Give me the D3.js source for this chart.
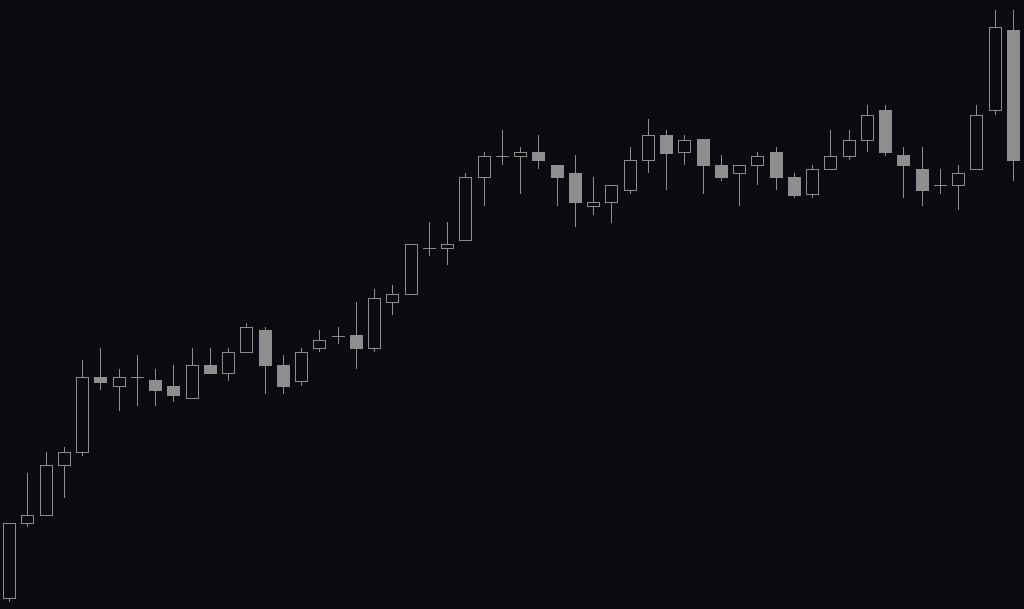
<!DOCTYPE html>
<html>
<head>
<meta charset="utf-8">
<script src="https://cdn.jsdelivr.net/npm/d3@7"></script>
<style>
  html, body { margin: 0; padding: 0; background: #0a0a10; overflow: hidden; }
  svg { display: block; }
</style>
</head>
<body>
<svg id="chart" width="1024" height="609"></svg>
<script>
const openP  = [100.4,115.3,116.9,126.9,129.5,144.6,142.7,144.5,143.8,142.8,140.3,146.9,145.3,149.5,153.8,146.9,143.7,150.3,152.7,152.8,150.3,159.5,161.1,170.3,170.3,171.9,184.5,188.7,188.7,189.5,186.9,185.3,178.7,179.5,181.9,187.9,193.0,189.5,192.0,187.0,185.3,186.9,189.6,184.6,181.1,186.1,188.7,191.9,198.0,188.8,186.2,182.9,182.9,186.1,197.9,213.8];
const highP  = [115.4,125.4,129.6,130.4,147.8,150.4,146.2,148.8,146.2,147.0,150.4,150.4,150.4,155.4,154.6,148.8,150.4,153.8,154.6,159.6,162.0,163.0,171.2,175.4,175.4,185.4,189.6,193.8,190.4,193.0,186.9,188.8,184.6,182.9,190.4,196.2,193.8,193.0,192.0,188.8,186.9,189.6,190.4,185.4,187.0,193.8,193.8,198.8,198.8,190.4,190.4,186.2,187.0,198.8,218.0,218.0];
const lowP   = [99.7,114.7,116.9,120.5,128.9,142.0,137.9,138.9,138.9,139.7,140.3,145.3,143.9,149.5,141.3,141.3,142.9,149.7,151.3,146.3,149.7,157.1,161.1,168.9,167.1,171.9,178.9,187.1,181.3,186.3,178.9,174.7,177.1,175.5,181.3,185.5,182.1,187.1,181.3,183.9,178.9,183.1,182.1,180.5,180.5,186.1,188.1,189.7,188.9,180.5,178.9,181.3,178.1,186.1,197.1,183.9];
const closeP = [115.3,116.9,126.9,129.5,144.5,143.6,144.5,144.5,141.8,141.0,146.9,145.3,149.5,154.5,146.9,142.7,149.5,151.9,152.7,150.3,160.3,161.1,171.2,170.3,171.1,184.5,188.7,188.7,189.5,187.9,184.5,179.5,179.5,182.9,187.9,192.9,189.5,191.9,186.9,184.5,186.9,188.7,184.5,181.1,186.1,188.7,191.9,196.9,189.5,186.9,181.9,182.9,185.3,196.9,214.5,187.9];

const W = 1024, H = 609;
const bg = "#0a0a10", stroke = "#8c8c8c", downFill = "#8e8e8e";

const data = openP.map((o, i) => ({ i, o, h: highP[i], l: lowP[i], c: closeP[i] }));

const x = d3.scaleBand().domain(data.map(d => d.i)).range([0.5, 1022.5]).padding(0);
const y = d3.scaleLinear().domain([100, 220]).range([600, 0]);

const svg = d3.select("#chart");
svg.append("rect").attr("width", W).attr("height", H).attr("fill", bg);

const bodyW = 12;
const cx = d => Math.floor(x(d.i) + x.bandwidth() / 2) + 0.5;
const bodyTop = d => Math.floor(y(Math.max(d.o, d.c)));
const bodyH = d => Math.max(1, Math.round(Math.abs(y(d.o) - y(d.c))));

const g = svg.append("g");
const candle = g.selectAll("g.candle").data(data).join("g").attr("class", "candle");

candle.append("line")
  .attr("x1", cx).attr("x2", cx)
  .attr("y1", d => Math.floor(y(d.h))).attr("y2", d => Math.ceil(y(d.l)))
  .attr("stroke", stroke).attr("stroke-width", 1);

const isDoji = d => Math.abs(y(d.o) - y(d.c)) < 0.6;

// up candles: hollow outline
candle.filter(d => !isDoji(d) && d.c >= d.o).append("rect")
  .attr("x", d => cx(d) - bodyW / 2)
  .attr("width", bodyW)
  .attr("y", d => bodyTop(d) + 0.5)
  .attr("height", bodyH)
  .attr("fill", bg)
  .attr("stroke", stroke)
  .attr("stroke-width", 1);

// down candles: solid fill
candle.filter(d => !isDoji(d) && d.c < d.o).append("rect")
  .attr("x", d => cx(d) - bodyW / 2 - 0.5)
  .attr("width", bodyW + 1)
  .attr("y", bodyTop)
  .attr("height", d => bodyH(d) + 1)
  .attr("fill", downFill)
  .attr("shape-rendering", "crispEdges");

candle.filter(isDoji).append("line")
  .attr("x1", d => cx(d) - bodyW / 2 - 0.5).attr("x2", d => cx(d) + bodyW / 2 + 0.5)
  .attr("y1", d => Math.floor(y(d.c)) + 0.5).attr("y2", d => Math.floor(y(d.c)) + 0.5)
  .attr("stroke", stroke).attr("stroke-width", 1);
</script>
</body>
</html>
